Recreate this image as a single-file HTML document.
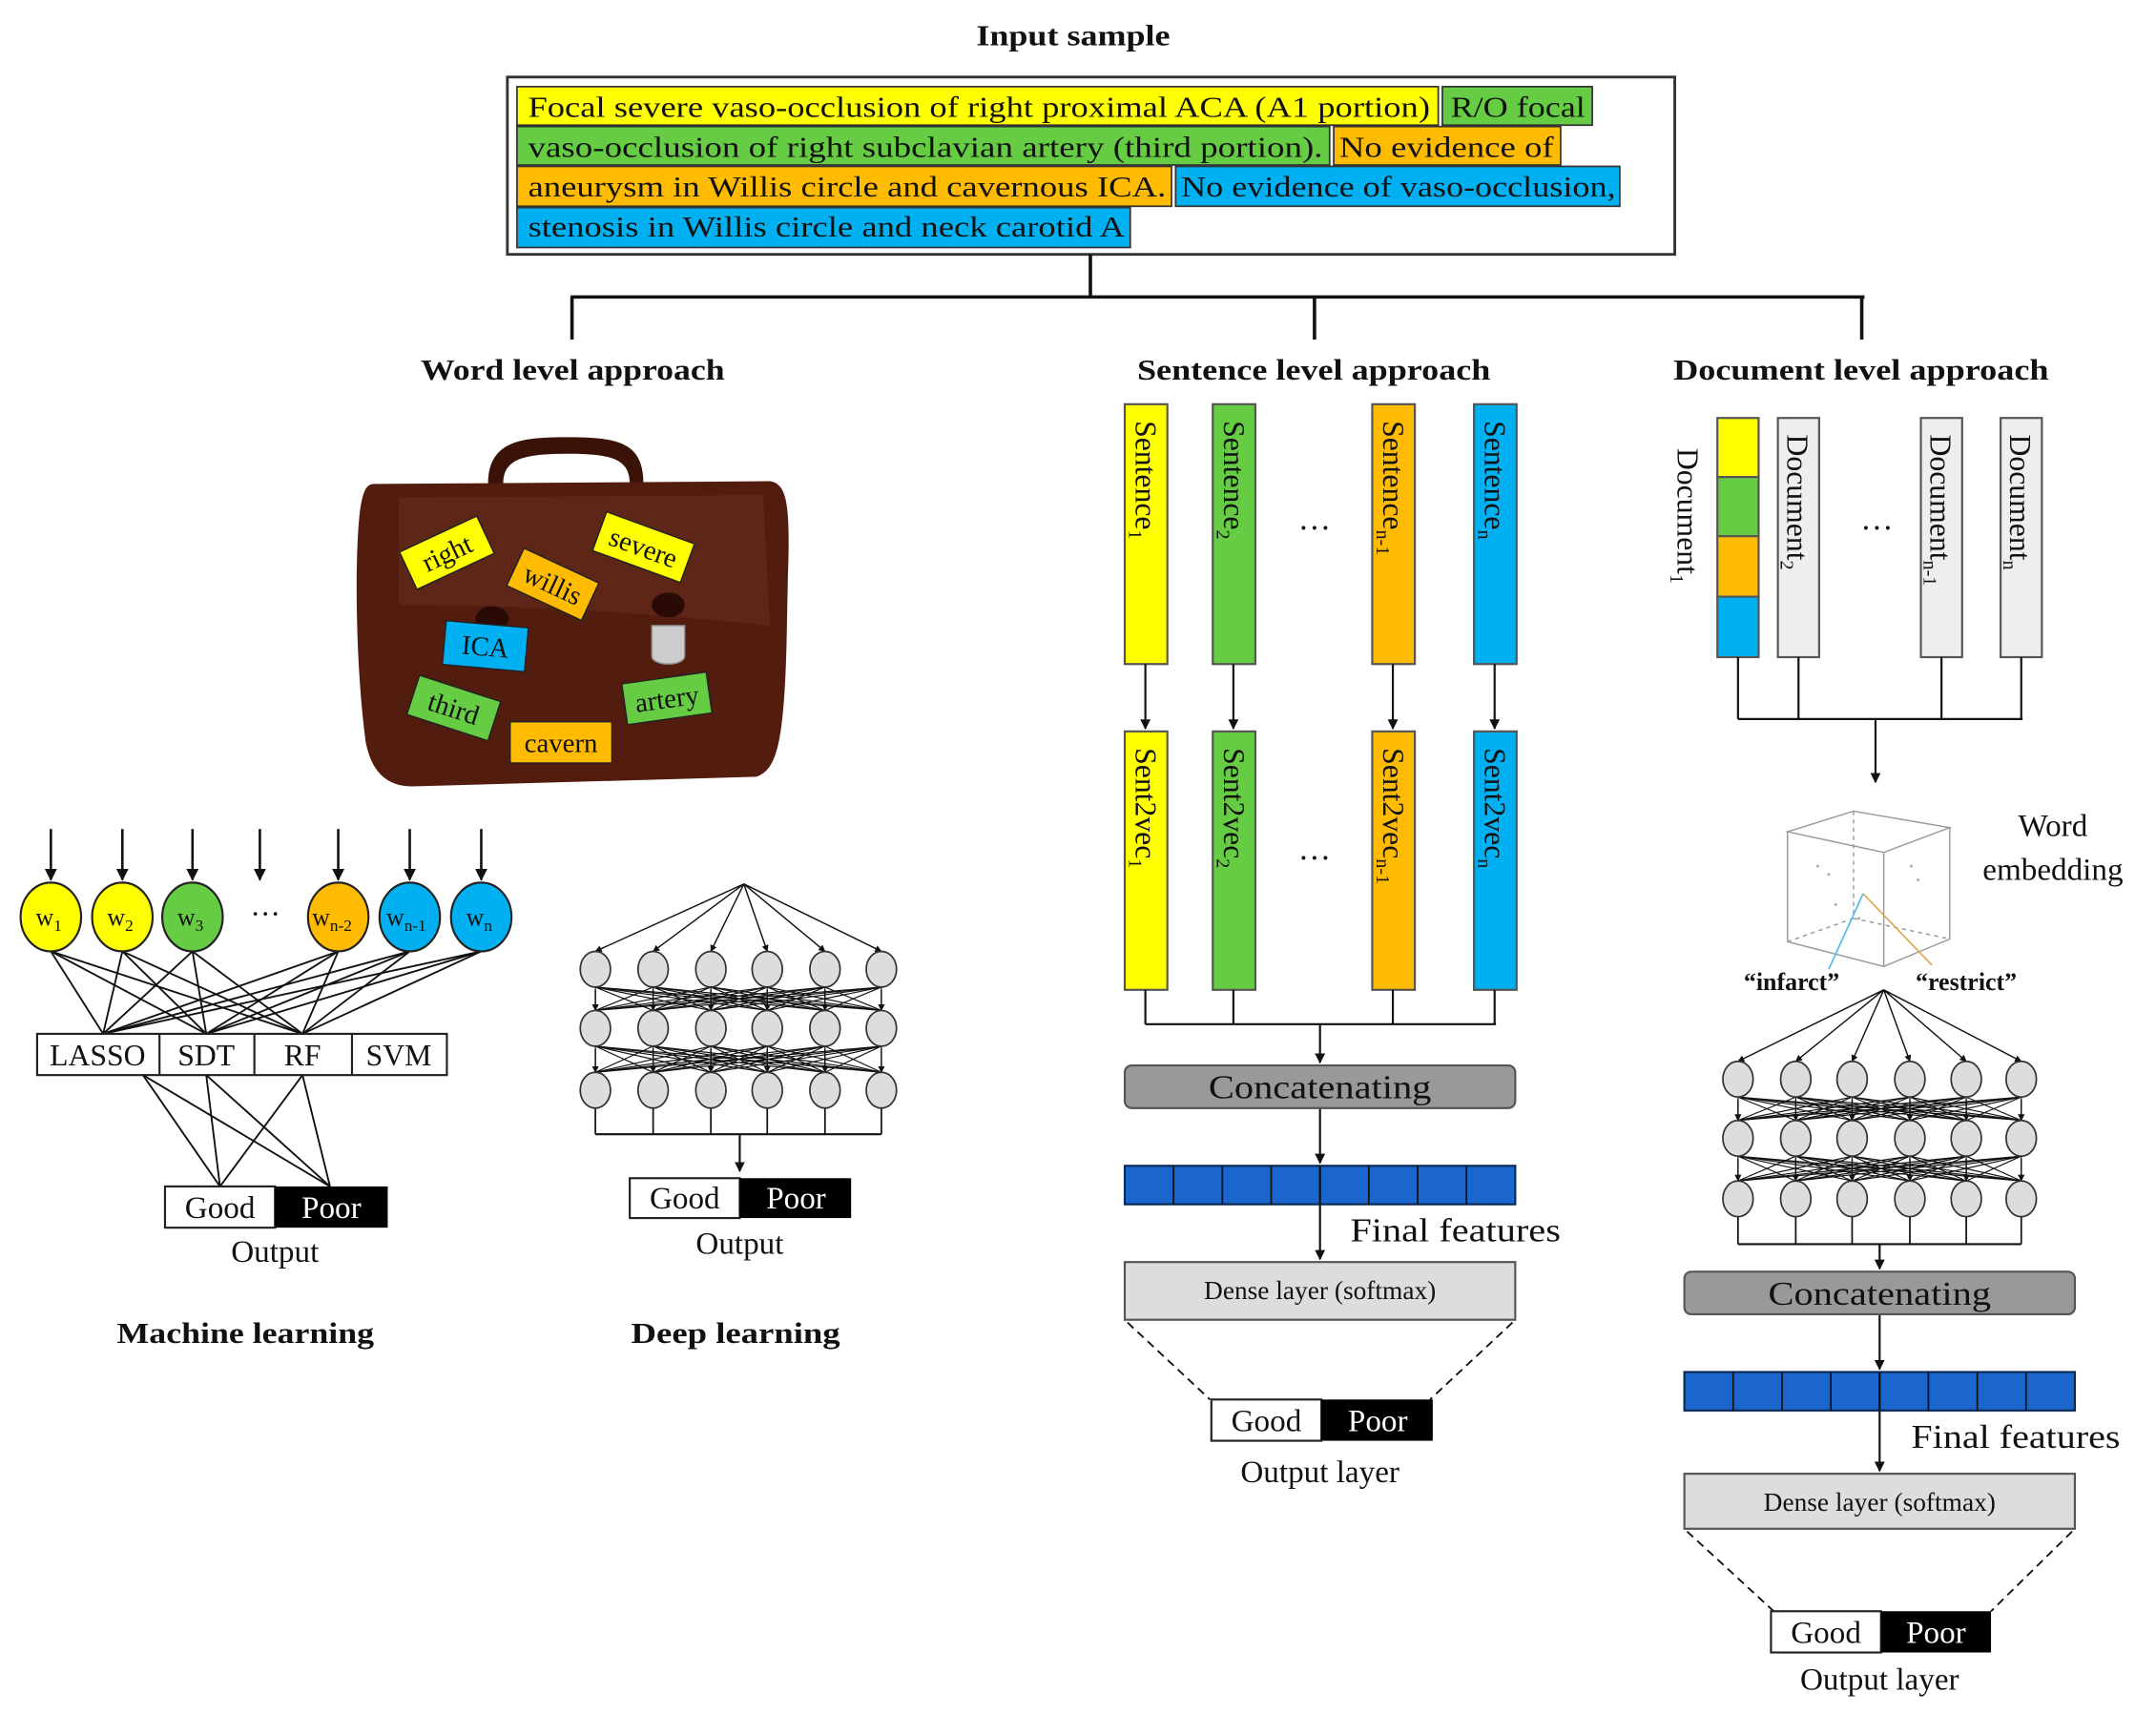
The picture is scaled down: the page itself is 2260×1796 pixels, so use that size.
<!DOCTYPE html>
<html><head><meta charset="utf-8">
<style>
html,body{margin:0;padding:0;background:#fff;}
svg{display:block;}
text{font-family:"Liberation Serif",serif;fill:#111;}
.b{font-weight:bold;}
</style></head>
<body>
<svg id="s" width="2260" height="1796" viewBox="0 0 1568 1246" xmlns="http://www.w3.org/2000/svg">
<defs>
<marker id="ar" viewBox="0 0 10 10" refX="9" refY="5" markerWidth="5" markerHeight="5" orient="auto-start-reverse"><path d="M0,0 L10,5 L0,10 z" fill="#111"/></marker>
</defs>
<rect width="1568" height="1246" fill="#fff"/>
<!-- Input sample -->
<text x="710" y="33" font-size="21" class="b" textLength="141" lengthAdjust="spacingAndGlyphs">Input sample</text>
<rect x="369" y="56" width="849" height="129" fill="#fff" stroke="#333" stroke-width="2"/>
<g font-size="20" stroke="#333" stroke-width="1.2">
<rect x="376" y="63" width="670" height="28" fill="#ffff00"/>
<rect x="1049" y="63" width="109" height="28" fill="#66cc44"/>
<rect x="376" y="92" width="591" height="28" fill="#66cc44"/>
<rect x="970" y="92" width="165" height="28" fill="#ffbb00"/>
<rect x="376" y="121" width="476" height="29" fill="#ffbb00"/>
<rect x="855" y="121" width="323" height="29" fill="#00b0f0"/>
<rect x="376" y="151" width="446" height="29" fill="#00b0f0"/>
</g>
<g font-size="21" lengthAdjust="spacingAndGlyphs">
<text x="384" y="85" textLength="656" lengthAdjust="spacingAndGlyphs">Focal severe vaso-occlusion of right proximal ACA (A1 portion)</text>
<text x="1055" y="85" textLength="98" lengthAdjust="spacingAndGlyphs">R/O focal</text>
<text x="384" y="114" textLength="578" lengthAdjust="spacingAndGlyphs">vaso-occlusion of right subclavian artery (third portion).</text>
<text x="974" y="114" textLength="156" lengthAdjust="spacingAndGlyphs">No evidence of</text>
<text x="384" y="143" textLength="464" lengthAdjust="spacingAndGlyphs">aneurysm in Willis circle and cavernous ICA.</text>
<text x="859" y="143" textLength="316" lengthAdjust="spacingAndGlyphs">No evidence of vaso-occlusion,</text>
<text x="384" y="172" textLength="434" lengthAdjust="spacingAndGlyphs">stenosis in Willis circle and neck carotid A</text>
</g>
<g stroke="#111" stroke-width="2.5" fill="none">
<path d="M793,185 V216 M415,216 H1356 M416,216 V247 M956,216 V247 M1354,216 V247"/>
</g>
<g font-size="21">
<text x="306" y="276" class="b" textLength="221" lengthAdjust="spacingAndGlyphs">Word level approach</text>
<text x="827" y="276" class="b" textLength="257" lengthAdjust="spacingAndGlyphs">Sentence level approach</text>
<text x="1217" y="276" class="b" textLength="273" lengthAdjust="spacingAndGlyphs">Document level approach</text>
</g>

<!-- briefcase -->
<path d="M355,352 C355,320 380,318 413,318 C450,318 468,322 468,352 L458,352 C458,334 445,330 413,330 C380,330 366,334 366,352 Z" fill="#3a1208"/>
<path d="M272,352 L560,350 C572,352 575,365 573,420 L572,470 C570,540 565,560 550,565 L300,572 C280,572 270,560 266,540 C258,480 258,400 262,370 C264,358 266,352 272,352 Z" fill="#521c0e"/>
<path d="M290,362 L555,360 L560,455 C460,445 380,440 290,440 Z" fill="#5e2616"/>
<ellipse cx="358" cy="450" rx="12" ry="9" fill="#2a0a04"/>
<ellipse cx="486" cy="440" rx="12" ry="9" fill="#2a0a04"/>
<path d="M474,455 h24 v22 c0,8 -24,8 -24,0 z" fill="#ccc" stroke="#888"/>
<g font-size="20" stroke="#222" stroke-width="1">
<g transform="translate(325,402) rotate(-25)"><rect x="-31" y="-15" width="62" height="30" fill="#ffff00"/><text x="0" y="7" text-anchor="middle" stroke="none">right</text></g>
<g transform="translate(468,398) rotate(20)"><rect x="-34" y="-15" width="68" height="30" fill="#ffff00"/><text x="0" y="7" text-anchor="middle" stroke="none">severe</text></g>
<g transform="translate(402,425) rotate(25)"><rect x="-30" y="-15" width="60" height="30" fill="#ffbb00"/><text x="0" y="7" text-anchor="middle" stroke="none">willis</text></g>
<g transform="translate(353,470) rotate(5)"><rect x="-30" y="-16" width="60" height="32" fill="#00b0f0"/><text x="0" y="7" text-anchor="middle" stroke="none">ICA</text></g>
<g transform="translate(330,515) rotate(18)"><rect x="-31" y="-15" width="62" height="30" fill="#66cc44"/><text x="0" y="7" text-anchor="middle" stroke="none">third</text></g>
<g transform="translate(485,508) rotate(-8)"><rect x="-31" y="-15" width="62" height="30" fill="#66cc44"/><text x="0" y="7" text-anchor="middle" stroke="none">artery</text></g>
<g transform="translate(408,540)"><rect x="-37" y="-15" width="74" height="30" fill="#ffbb00"/><text x="0" y="7" text-anchor="middle" stroke="none">cavern</text></g>
</g>

<g id="lines" stroke="#111" stroke-width="1.3" fill="none"></g>

<!-- ML circles -->
<g stroke="#222" stroke-width="1.5" font-size="17">
<ellipse cx="37" cy="667" rx="22" ry="25" fill="#ffff00"/>
<ellipse cx="89" cy="667" rx="22" ry="25" fill="#ffff00"/>
<ellipse cx="140" cy="667" rx="22" ry="25" fill="#66cc44"/>
<ellipse cx="246" cy="667" rx="22" ry="25" fill="#ffbb00"/>
<ellipse cx="298" cy="667" rx="22" ry="25" fill="#00b0f0"/>
<ellipse cx="350" cy="667" rx="22" ry="25" fill="#00b0f0"/>
</g>
<g font-size="18" stroke="none">
<text x="26" y="673">w<tspan font-size="12" dy="4">1</tspan></text>
<text x="78" y="673">w<tspan font-size="12" dy="4">2</tspan></text>
<text x="129" y="673">w<tspan font-size="12" dy="4">3</tspan></text>
<text x="227" y="673">w<tspan font-size="12" dy="4">n-2</tspan></text>
<text x="281" y="673">w<tspan font-size="12" dy="4">n-1</tspan></text>
<text x="339" y="673">w<tspan font-size="12" dy="4">n</tspan></text>
<text x="193" y="672" text-anchor="middle" font-size="22">···</text>
</g>
<rect x="27" y="752" width="298" height="30" fill="#fff" stroke="#222" stroke-width="1.5"/>
<path d="M116,752 V782 M185,752 V782 M256,752 V782" stroke="#222" stroke-width="1.5"/>
<g font-size="22" text-anchor="middle">
<text x="71" y="775">LASSO</text><text x="150" y="775">SDT</text><text x="220" y="775">RF</text><text x="290" y="775">SVM</text>
</g>
<g id="ml2" stroke="#111" stroke-width="1.3"></g>
<rect x="120" y="863" width="80" height="30" fill="#fff" stroke="#222" stroke-width="1.5"/>
<rect x="200" y="863" width="82" height="30" fill="#000"/>
<text x="160" y="886" font-size="23" text-anchor="middle">Good</text>
<text x="241" y="886" font-size="23" text-anchor="middle" style="fill:#fff">Poor</text>
<text x="200" y="918" font-size="23" text-anchor="middle">Output</text>
<text x="85" y="977" font-size="21" class="b" textLength="187" lengthAdjust="spacingAndGlyphs">Machine learning</text>

<!-- Deep learning -->
<g id="dl"></g>
<rect x="458" y="857" width="80" height="29" fill="#fff" stroke="#222" stroke-width="1.5"/>
<rect x="538" y="857" width="81" height="29" fill="#000"/>
<text x="498" y="879" font-size="23" text-anchor="middle">Good</text>
<text x="579" y="879" font-size="23" text-anchor="middle" style="fill:#fff">Poor</text>
<text x="538" y="912" font-size="23" text-anchor="middle">Output</text>
<text x="459" y="977" font-size="21" class="b" textLength="152" lengthAdjust="spacingAndGlyphs">Deep learning</text>

<!-- Sentence level -->
<g stroke="#555" stroke-width="1.5">
<rect x="818" y="294" width="31" height="189" fill="#ffff00"/>
<rect x="882" y="294" width="31" height="189" fill="#66cc44"/>
<rect x="998" y="294" width="31" height="189" fill="#ffbb00"/>
<rect x="1072" y="294" width="31" height="189" fill="#00b0f0"/>
<rect x="818" y="532" width="31" height="188" fill="#ffff00"/>
<rect x="882" y="532" width="31" height="188" fill="#66cc44"/>
<rect x="998" y="532" width="31" height="188" fill="#ffbb00"/>
<rect x="1072" y="532" width="31" height="188" fill="#00b0f0"/>
</g>
<g font-size="22">
<text transform="translate(826,306) rotate(90)">Sentence<tspan font-size="14" dy="5">1</tspan></text>
<text transform="translate(890,306) rotate(90)">Sentence<tspan font-size="14" dy="5">2</tspan></text>
<text transform="translate(1006,306) rotate(90)">Sentence<tspan font-size="14" dy="5">n-1</tspan></text>
<text transform="translate(1080,306) rotate(90)">Sentence<tspan font-size="14" dy="5">n</tspan></text>
<text transform="translate(826,544) rotate(90)">Sent2vec<tspan font-size="14" dy="5">1</tspan></text>
<text transform="translate(890,544) rotate(90)">Sent2vec<tspan font-size="14" dy="5">2</tspan></text>
<text transform="translate(1006,544) rotate(90)">Sent2vec<tspan font-size="14" dy="5">n-1</tspan></text>
<text transform="translate(1080,544) rotate(90)">Sent2vec<tspan font-size="14" dy="5">n</tspan></text>
<text x="956" y="392" text-anchor="middle" font-size="24">···</text>
<text x="956" y="632" text-anchor="middle" font-size="24">···</text>
</g>
<g stroke="#111" stroke-width="1.5" fill="none">
<path d="M833,483 V530" marker-end="url(#ar)"/>
<path d="M897,483 V530" marker-end="url(#ar)"/>
<path d="M1013,483 V530" marker-end="url(#ar)"/>
<path d="M1087,483 V530" marker-end="url(#ar)"/>
<path d="M833,720 V745 M897,720 V745 M1013,720 V745 M1087,720 V745 M833,745 H1088"/>
<path d="M960,745 V773" marker-end="url(#ar)"/>
<path d="M960,806 V846" marker-end="url(#ar)"/>
<path d="M960,876 V916" marker-end="url(#ar)"/>
</g>
<rect x="818" y="775" width="284" height="31" rx="5" fill="#999" stroke="#555" stroke-width="1.5"/>
<text x="879" y="799" font-size="24" textLength="162" lengthAdjust="spacingAndGlyphs">Concatenating</text>
<g id="fb1"></g>
<text x="982" y="903" font-size="24" textLength="153" lengthAdjust="spacingAndGlyphs">Final features</text>
<rect x="818" y="918" width="284" height="42" fill="#ddd" stroke="#555" stroke-width="1.5"/>
<text x="960" y="945" font-size="19" text-anchor="middle">Dense layer (softmax)</text>
<path d="M820,962 L880,1018 M1100,962 L1040,1018" stroke="#111" stroke-width="1.3" stroke-dasharray="6,4"/>
<rect x="881" y="1018" width="80" height="30" fill="#fff" stroke="#222" stroke-width="1.5"/>
<rect x="961" y="1018" width="81" height="30" fill="#000"/>
<text x="921" y="1041" font-size="23" text-anchor="middle">Good</text>
<text x="1002" y="1041" font-size="23" text-anchor="middle" style="fill:#fff">Poor</text>
<text x="960" y="1078" font-size="23" text-anchor="middle">Output layer</text>

<!-- Document level -->
<g stroke="#555" stroke-width="1.5">
<rect x="1249" y="304" width="30" height="43" fill="#ffff00"/>
<rect x="1249" y="347" width="30" height="43" fill="#66cc44"/>
<rect x="1249" y="390" width="30" height="44" fill="#ffbb00"/>
<rect x="1249" y="434" width="30" height="44" fill="#00b0f0"/>
<rect x="1293" y="304" width="30" height="174" fill="#eee"/>
<rect x="1397" y="304" width="30" height="174" fill="#eee"/>
<rect x="1455" y="304" width="30" height="174" fill="#eee"/>
</g>
<g font-size="22">
<text transform="translate(1220,326) rotate(90)">Document<tspan font-size="14" dy="5">1</tspan></text>
<text transform="translate(1300,316) rotate(90)">Document<tspan font-size="14" dy="5">2</tspan></text>
<text transform="translate(1404,316) rotate(90)">Document<tspan font-size="14" dy="5">n-1</tspan></text>
<text transform="translate(1462,316) rotate(90)">Document<tspan font-size="14" dy="5">n</tspan></text>
<text x="1365" y="392" text-anchor="middle" font-size="24">···</text>
</g>
<g stroke="#111" stroke-width="1.5" fill="none">
<path d="M1264,478 V523 M1308,478 V523 M1412,478 V523 M1470,478 V523 M1264,523 H1471"/>
<path d="M1364,523 V569" marker-end="url(#ar)"/>
</g>
<!-- cube -->
<g stroke="#999" stroke-width="1" fill="none">
<path d="M1300,605 L1348,590 L1418,602 L1370,620 Z"/>
<path d="M1300,605 V685 L1370,703 V620 M1418,602 V683 L1370,703"/>
<path d="M1348,590 V668 L1300,685 M1348,668 L1418,683" stroke-dasharray="3,3"/>
</g>
<path d="M1355,650 L1330,705" stroke="#55bbee" stroke-width="1.2"/>
<path d="M1355,650 L1405,702" stroke="#ddaa55" stroke-width="1.2"/>
<g fill="#aaa"><circle cx="1322" cy="630" r="1"/><circle cx="1330" cy="636" r="1"/><circle cx="1390" cy="630" r="1"/><circle cx="1395" cy="640" r="1"/><circle cx="1335" cy="658" r="1"/><circle cx="1352" cy="668" r="1"/></g>
<text x="1493" y="608" font-size="23" text-anchor="middle">Word</text>
<text x="1493" y="640" font-size="23" text-anchor="middle">embedding</text>
<text x="1303" y="720" font-size="18" text-anchor="middle" class="b">“infarct”</text>
<text x="1430" y="720" font-size="18" text-anchor="middle" class="b">“restrict”</text>
<g id="dl2"></g>
<g stroke="#111" stroke-width="1.5" fill="none">
<path d="M1367,956 V996" marker-end="url(#ar)"/>
<path d="M1367,1026 V1070" marker-end="url(#ar)"/>
</g>
<rect x="1225" y="925" width="284" height="31" rx="5" fill="#999" stroke="#555" stroke-width="1.5"/>
<text x="1286" y="949" font-size="24" textLength="162" lengthAdjust="spacingAndGlyphs">Concatenating</text>
<g id="fb2"></g>
<text x="1390" y="1053" font-size="24" textLength="152" lengthAdjust="spacingAndGlyphs">Final features</text>
<rect x="1225" y="1072" width="284" height="40" fill="#ddd" stroke="#555" stroke-width="1.5"/>
<text x="1367" y="1099" font-size="19" text-anchor="middle">Dense layer (softmax)</text>
<path d="M1227,1114 L1290,1172 M1507,1114 L1448,1172" stroke="#111" stroke-width="1.3" stroke-dasharray="6,4"/>
<rect x="1288" y="1172" width="80" height="30" fill="#fff" stroke="#222" stroke-width="1.5"/>
<rect x="1368" y="1172" width="80" height="30" fill="#000"/>
<text x="1328" y="1195" font-size="23" text-anchor="middle">Good</text>
<text x="1408" y="1195" font-size="23" text-anchor="middle" style="fill:#fff">Poor</text>
<text x="1367" y="1229" font-size="23" text-anchor="middle">Output layer</text>
</svg>
<script>
var NS="http://www.w3.org/2000/svg";
function el(p,t,a){var e=document.createElementNS(NS,t);for(var k in a)e.setAttribute(k,a[k]);document.getElementById(p).appendChild(e);return e;}
function ln(p,x1,y1,x2,y2,w,arr){var a={x1:x1,y1:y1,x2:x2,y2:y2,stroke:"#111","stroke-width":w||1.3};if(arr)a["marker-end"]="url(#ar)";el(p,"line",a);}
[37,89,140,189,246,298,350].forEach(function(x){ln("lines",x,603,x,640,1.8,true);});
var cx=[37,89,140,246,298,350],tg=[75,150,220];
cx.forEach(function(x){tg.forEach(function(t){ln("lines",x,692,t,752);});});
[[104,160],[104,240],[150,160],[150,240],[220,160],[220,240]].forEach(function(p){ln("ml2",p[0],782,p[1],863);});
function net(g,ax,ay,xs,ys,by,arx,ary){
 xs.forEach(function(x){ln(g,ax,ay,x,ys[0]-13,1,true);});
 for(var r=0;r<ys.length-1;r++){xs.forEach(function(a){xs.forEach(function(b){ln(g,a,ys[r]+13,b,ys[r+1]-13,0.8);});});
  xs.forEach(function(b){ln(g,b,ys[r]+15,b,ys[r+1]-13,1,true);});}
 xs.forEach(function(x){ln(g,x,ys[ys.length-1]+13,x,by,1.2);});
 ln(g,xs[0],by,xs[xs.length-1],by,1.5);
 ln(g,arx,by,arx,ary,1.5,true);
 ys.forEach(function(y){xs.forEach(function(x){el(g,"ellipse",{cx:x,cy:y,rx:11,ry:13,fill:"#ddd",stroke:"#333","stroke-width":1.2});});});
}
net("dl",541,643,[433,475,517,558,600,641],[705,748,793],825,538,852);
net("dl2",1370,720,[1264,1306,1347,1389,1430,1470],[785,828,872],905,1367,923);
function fb(g,x,y,w,h){el(g,"rect",{x:x,y:y,width:w,height:h,fill:"#1a66cc",stroke:"#0a2a55","stroke-width":1.5});for(var i=1;i<8;i++)ln(g,x+w*i/8,y,x+w*i/8,y+h,1.2);}
fb("fb1",818,848,284,28);fb("fb2",1225,998,284,28);
ln("fb1",960,848,960,876,1.5);ln("fb2",1367,998,1367,1026,1.5);
</script>
</body></html>
